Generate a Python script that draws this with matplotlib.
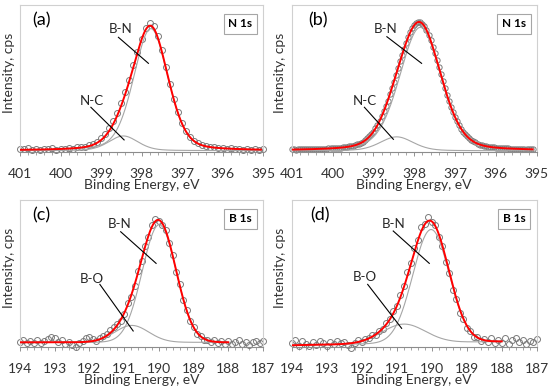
import numpy as np
import matplotlib.pyplot as plt
from matplotlib.ticker import MultipleLocator

plt.rcParams['font.family'] = ['Lato', 'DejaVu Sans']

# measured points, intensity in % of the plot height
energy_n_a = np.round(np.linspace(401.0, 395.0, 61), 2)
counts_a = [2.2, 1.8, 2.5, 1.6, 2.0, 1.3, 2.1, 1.7, 2.4, 1.5,
            2.3, 1.9, 2.8, 2.2, 3.1, 3.4, 3.6, 4.5, 5.6, 7.0,
            9.2, 12.4, 16.3, 21.0, 26.8, 33.2, 40.5, 49.0, 58.9, 68.0,
            77.1, 84.5, 87.6, 86.0, 79.2, 69.6, 58.0, 46.5, 35.9, 26.9,
            19.6, 14.3, 10.2, 7.6, 5.9, 4.6, 4.0, 3.1, 3.5, 2.4,
            2.9, 2.0, 2.6, 1.8, 2.3, 1.6, 2.2, 1.5, 2.0, 1.4, 1.9]

energy_n_b = np.round(np.linspace(401.0, 395.1, 119), 2)
counts_b = [1.9, 1.8, 1.6, 1.8, 1.9, 1.8, 1.7, 1.9, 2.0, 1.9,
            1.8, 2.0, 2.1, 2.2, 2.3, 2.2, 2.1, 2.3, 2.5, 2.5,
            2.6, 2.7, 2.8, 2.9, 3.0, 3.1, 3.2, 3.5, 3.8, 4.0,
            4.3, 4.7, 5.1, 5.6, 6.2, 7.0, 8.0, 9.3, 10.8, 12.3,
            13.9, 16.0, 18.3, 21.2, 24.3, 27.6, 31.0, 35.0, 39.2, 43.3,
            47.5, 52.3, 57.0, 61.6, 66.0, 70.2, 74.1, 77.9, 81.4, 84.0,
            86.2, 87.8, 88.6, 88.4, 87.3, 85.4, 83.0, 79.7, 75.9, 71.7,
            67.3, 62.5, 57.5, 52.8, 48.1, 43.3, 38.6, 34.6, 30.8, 27.1,
            23.7, 20.9, 18.3, 15.9, 13.7, 12.1, 10.6, 9.3, 8.1, 7.3,
            6.5, 5.6, 4.9, 4.6, 4.4, 4.0, 3.7, 3.6, 3.4, 3.1,
            2.8, 2.8, 2.8, 2.6, 2.5, 2.5, 2.5, 2.3, 2.2, 2.3,
            2.3, 2.1, 2.0, 2.1, 2.1, 1.9, 1.8, 1.9, 1.9]

energy_b = np.round(np.linspace(194.0, 187.0, 71), 2)
counts_c = [3.5, 4.8, 2.6, 4.2, 3.0, 5.1, 2.4, 3.9, 5.6, 6.8,
            5.9, 3.1, 4.5, 2.0, 3.6, 1.5, 0.2, 2.8, 4.1, 6.3,
            7.0, 5.2, 4.0, 5.8, 7.5, 8.9, 11.8, 13.5, 15.9, 18.0,
            22.4, 29.6, 34.0, 41.5, 51.7, 58.3, 69.0, 74.6, 83.0, 87.2,
            85.8, 82.9, 79.6, 70.5, 62.8, 51.0, 42.6, 32.1, 25.5, 17.6,
            13.9, 9.1, 7.6, 5.0, 4.9, 3.4, 4.6, 2.9, 4.0, 2.2,
            3.8, 1.9, 3.3, 4.5, 2.1, 3.7, 1.6, 3.2, 4.4, 2.5, 3.9]
counts_d = [2.5, 4.6, 1.0, 3.8, 2.2, 0.6, 3.1, 1.5, 4.2, 2.7,
            0.9, 3.5, 1.8, 4.0, 2.4, 3.3, 1.2, -0.8, 2.9, 4.5,
            3.6, 5.4, 6.1, 7.9, 8.2, 11.0, 12.3, 16.4, 18.8, 24.5,
            28.0, 35.6, 41.2, 50.8, 57.1, 67.2, 72.9, 81.3, 83.6, 88.4,
            85.0, 83.1, 74.8, 68.9, 57.6, 50.3, 39.0, 32.5, 23.4, 19.3,
            13.0, 11.1, 7.0, 6.8, 4.3, 5.6, 3.2, 6.0, 2.7, 4.9,
            3.0, 5.8, 2.3, 4.7, 6.2, 3.1, 5.0, 2.0, 4.4, 3.6, 5.7]

# fitted components: centre (eV), height, fwhm (eV)
peaks_a = [(397.77, 83.0, 1.00), (398.45, 10.0, 0.85)]
peaks_b = [(397.85, 84.0, 1.20), (398.43, 9.5, 0.95)]
peaks_c = [(189.99, 80.0, 1.15), (190.78, 11.5, 1.15)]
peaks_d = [(190.02, 77.0, 1.22), (190.80, 13.0, 1.45)]
# lorentzian share of each fit
eta = [0.25, 0.25, 0.0, 0.0]
# fit range and background at its two ends
fit_range = [(401.0, 395.05), (401.0, 395.1), (194.0, 188.0), (194.0, 188.0)]
background = [(0.9, 0.9), (0.8, 0.8), (3.2, 3.2), (1.2, 3.8)]

tags = ['(a)', '(b)', '(c)', '(d)']
core = ['N 1s', 'N 1s', 'B 1s', 'B 1s']
# label, text position, line start, line end (eV, intensity)
notes = [
    [('B-N', (398.51, 83.7), (398.57, 78.0), (397.83, 60.3)),
     ('N-C', (399.23, 34.8), (399.25, 30.4), (398.43, 8.2))],
    [('B-N', (398.71, 83.7), (398.67, 78.4), (397.82, 60.3)),
     ('N-C', (399.20, 34.8), (399.22, 30.4), (398.51, 8.6))],
    [('B-N', (191.12, 83.7), (191.10, 78.4), (190.08, 56.9)),
     ('B-O', (191.93, 46.3), (191.70, 42.6), (190.74, 10.9))],
    [('B-N', (191.10, 83.7), (191.10, 78.9), (190.07, 56.9)),
     ('B-O', (191.91, 47.3), (191.83, 42.6), (190.86, 12.7))],
]


def pv(x, c, h, w, e):
    g = np.exp(-4 * np.log(2) * (x - c) ** 2 / w ** 2)
    l = 1 / (1 + 4 * (x - c) ** 2 / w ** 2)
    return h * ((1 - e) * g + e * l)


fig = plt.figure(figsize=(5.5, 3.91), dpi=100)
boxes = [[0.0364, 0.6113, 0.4418, 0.376], [0.5304, 0.6113, 0.4455, 0.376],
         [0.0364, 0.1125, 0.4418, 0.376], [0.5304, 0.1125, 0.4455, 0.376]]
data = [(energy_n_a, counts_a), (energy_n_b, counts_b),
        (energy_b, counts_c), (energy_b, counts_d)]
peaks = [peaks_a, peaks_b, peaks_c, peaks_d]
limits = [(401, 395), (401, 395), (194, 187), (194, 187)]
tag_x = [0.089, 0.107, 0.087, 0.115]
marker = [4.3, 3.8, 4.3, 4.3]

for i in range(4):
    ax = fig.add_axes(boxes[i])
    x, y = data[i]
    ax.plot(x, y, 'o', ms=marker[i], mfc='none', mec='#7a7a7a', mew=0.7,
            clip_on=False, zorder=1)

    xf = np.linspace(fit_range[i][0], fit_range[i][1], 400)
    bg = np.interp(xf, [fit_range[i][1], fit_range[i][0]],
                   [background[i][1], background[i][0]])
    total = bg.copy()
    for c, h, w in peaks[i]:
        comp = pv(xf, c, h, w, eta[i])
        ax.plot(xf, bg + comp, color='#a6a6a6', lw=0.8, zorder=2)
        total += comp
    ax.plot(xf, total, color='#ff0000', lw=1.4, zorder=3)

    for label, tp, p0, p1 in notes[i]:
        ax.text(tp[0], tp[1], label, ha='center', va='center', fontsize=9.5,
                color='#262626')
        ax.plot([p0[0], p1[0]], [p0[1], p1[1]], color='black', lw=0.8,
                zorder=4)

    ax.text(tag_x[i], 0.898, tags[i], transform=ax.transAxes, ha='center',
            va='center', fontsize=13, color='black')
    ax.text(0.907, 0.871, core[i], transform=ax.transAxes, ha='center',
            va='center', fontsize=8.5, fontweight='bold', color='black',
            bbox=dict(boxstyle='square,pad=0.4', fc='white', ec='#a6a6a6',
                      lw=0.8))

    ax.set_xlim(limits[i])
    ax.set_ylim(0, 100)
    ax.xaxis.set_major_locator(MultipleLocator(1))
    ax.xaxis.set_minor_locator(MultipleLocator(0.2))
    ax.set_yticks([])
    ax.tick_params(axis='x', which='major', length=3, width=0.6,
                   color='#808080', labelsize=10, labelcolor='#333333',
                   pad=8.5)
    ax.tick_params(axis='x', which='minor', length=2, width=0.5,
                   color='#808080')
    for s in ['left', 'top', 'right']:
        ax.spines[s].set_color('#d0d0d0')
        ax.spines[s].set_linewidth(0.8)
    ax.spines['bottom'].set_color('#8c8c8c')
    ax.spines['bottom'].set_linewidth(0.8)

    ax.set_xlabel('Binding Energy, eV', fontsize=10, color='#333333',
                  labelpad=-0.5)
    ax.set_ylabel('Intensity, cps', fontsize=10, color='#333333')
    ax.yaxis.set_label_coords(-0.022, 0.54)

fig.savefig('out.png', dpi=100)
